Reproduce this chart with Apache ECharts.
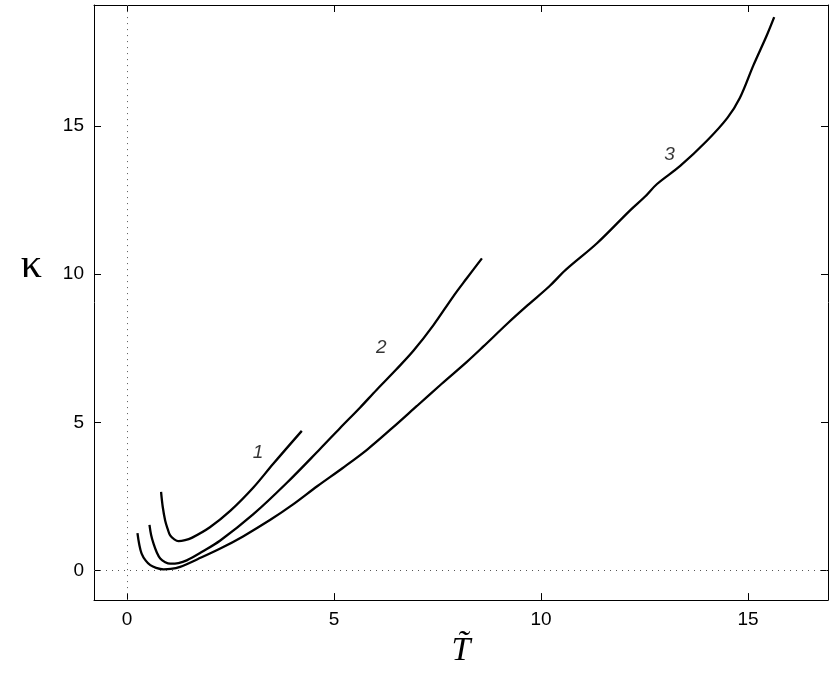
<!DOCTYPE html>
<html>
<head>
<meta charset="utf-8">
<script src="https://cdn.jsdelivr.net/npm/echarts@6/dist/echarts.min.js"></script>
<style>
  html, body { margin: 0; padding: 0; background: #fff; }
  #chart { width: 834px; height: 673px; }
</style>
</head>
<body>
<div id="chart"></div>
<script>
// curve 1
const t1 = [0.82, 0.86, 0.92, 0.98, 1.04, 1.14, 1.24, 1.40, 1.56, 2.0, 2.49, 3.05, 3.53, 4.22];
const k1 = [2.65, 2.15, 1.68, 1.40, 1.18, 1.05, 0.99, 1.02, 1.10, 1.46, 2.01, 2.80, 3.60, 4.71];
// curve 2
const t2 = [0.54, 0.58, 0.64, 0.72, 0.80, 0.92, 1.04, 1.24, 1.44, 1.8, 2.25, 3.05, 3.86, 4.66, 5.14, 5.63, 6.03, 6.5, 6.92, 7.40, 7.88, 8.2, 8.57];
const k2 = [1.54, 1.20, 0.90, 0.60, 0.40, 0.28, 0.23, 0.25, 0.34, 0.62, 1.01, 1.90, 2.96, 4.10, 4.80, 5.50, 6.10, 6.78, 7.42, 8.28, 9.25, 9.85, 10.53];
// curve 3
const t3 = [0.25, 0.29, 0.35, 0.45, 0.56, 0.70, 0.88, 1.05, 1.28, 1.7, 2.25, 2.8, 3.45, 4.0, 4.6, 5.2, 5.8, 6.4, 7.0, 7.6, 8.2, 8.6, 9.2, 9.7, 10.2, 10.6, 11.35, 12.15, 12.5, 12.8, 13.36, 14.0, 14.5, 14.8, 15.13, 15.45, 15.63];
const k3 = [1.26, 0.90, 0.57, 0.33, 0.18, 0.09, 0.04, 0.05, 0.12, 0.38, 0.74, 1.15, 1.70, 2.22, 2.85, 3.45, 4.08, 4.80, 5.55, 6.30, 7.03, 7.55, 8.35, 8.98, 9.59, 10.15, 11.04, 12.15, 12.6, 13.04, 13.65, 14.49, 15.27, 15.94, 17.05, 18.05, 18.67];

// curve labels
const labelNames = ["1", "2", "3"];
const labelT = [3.16, 6.14, 13.1];
const labelK = [3.98, 7.52, 14.03];

const xTicks = [0, 5, 10, 15];
const yTicks = [0, 5, 10, 15];

const zip = (a, b) => a.map((v, i) => [v, b[i]]);

const tickFont = { color: "#000", fontSize: 19, fontFamily: "Liberation Sans" };
const axLine = { show: true, onZero: false, lineStyle: { color: "#000", width: 1 } };
const inTick = (vals) => ({ show: true, inside: true, length: 7, customValues: vals, lineStyle: { color: "#000" } });

const chart = echarts.init(document.getElementById("chart"), null, { renderer: "canvas" });

const curve = (name, data) => ({
  name: name,
  type: "line",
  data: data,
  smooth: 0.35,
  showSymbol: false,
  symbol: "none",
  lineStyle: { color: "#000", width: 2.3 },
  silent: true,
  z: 3
});

chart.setOption({
  animation: false,
  backgroundColor: "#fff",
  grid: { left: 94, right: 6, top: 5, bottom: 66, containLabel: false },
  xAxis: [
    {
      type: "value", min: -0.8, max: 16.93, position: "bottom",
      axisLine: axLine, axisTick: inTick(xTicks), splitLine: { show: false },
      axisLabel: Object.assign({ customValues: xTicks, margin: 10 }, tickFont),
      name: "T\u0303", nameLocation: "middle", nameGap: 20,
      nameTextStyle: { fontFamily: "Liberation Serif", fontStyle: "italic", fontSize: 34, color: "#000", verticalAlign: "top" }
    },
    {
      type: "value", min: -0.8, max: 16.93, position: "top",
      axisLine: axLine, axisTick: inTick(xTicks), splitLine: { show: false },
      axisLabel: { show: false }
    }
  ],
  yAxis: [
    {
      type: "value", min: -1, max: 19.08, position: "left",
      axisLine: axLine, axisTick: inTick(yTicks), splitLine: { show: false },
      axisLabel: Object.assign({ customValues: yTicks, margin: 10 }, tickFont),
      name: "{k|\u03ba}\n{s| }", nameLocation: "middle", nameGap: 52, nameRotate: 0,
      nameTextStyle: {
        color: "#000",
        rich: {
          k: { fontFamily: "Liberation Serif", fontSize: 42, lineHeight: 44, color: "#000" },
          s: { fontSize: 10, lineHeight: 74 }
        }
      }
    },
    {
      type: "value", min: -1, max: 19.08, position: "right",
      axisLine: axLine, axisTick: inTick(yTicks), splitLine: { show: false },
      axisLabel: { show: false }
    }
  ],
  series: [
    Object.assign(curve("1", zip(t1, k1)), {
      markLine: {
        silent: true,
        symbol: ["none", "none"],
        label: { show: false },
        lineStyle: { type: [1, 5], color: "#555", width: 1 },
        data: [{ xAxis: 0 }, { yAxis: 0 }]
      }
    }),
    curve("2", zip(t2, k2)),
    curve("3", zip(t3, k3)),
    {
      type: "scatter",
      symbolSize: 0,
      silent: true,
      data: labelNames.map((n, i) => ({ value: [labelT[i], labelK[i]], name: n })),
      label: {
        show: true, position: "inside", formatter: (p) => p.name,
        fontFamily: "Liberation Sans", fontStyle: "italic", fontSize: 19, color: "#000"
      }
    }
  ]
});
</script>
</body>
</html>
